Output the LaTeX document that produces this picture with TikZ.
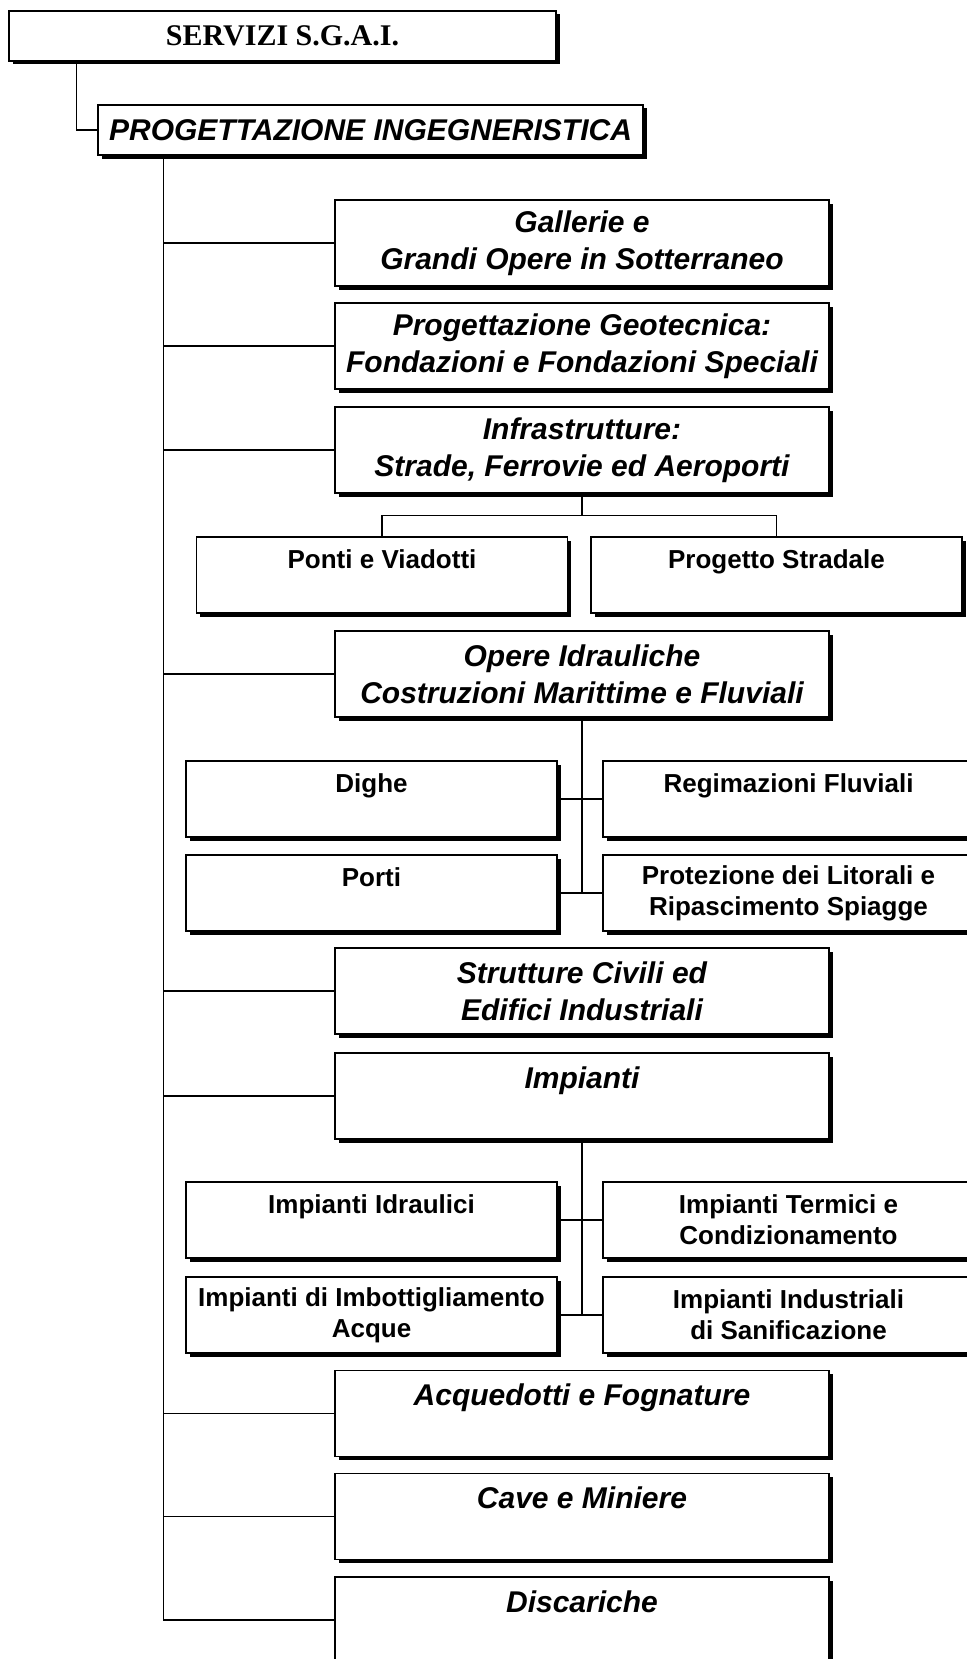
\documentclass[tikz,border=0pt]{standalone}
\usepackage{fontspec}
\setmainfont{Liberation Sans}
\newfontfamily\timesfont{Liberation Serif}
\usetikzlibrary{shadows}

\tikzset{
  box/.style={draw, fill=white, line width=0.75pt, inner sep=0pt, align=center,
    drop shadow={shadow xshift=1.75pt, shadow yshift=-1.75pt, fill=black, opacity=1}},
  bigbox/.style={box, minimum width=247pt, minimum height=43pt,
    font=\fontsize{15}{18.5}\selectfont\bfseries\itshape},
  smallbox/.style={box, minimum width=185.5pt, minimum height=38pt,
    font=\fontsize{13}{15.5}\selectfont\bfseries},
  link/.style={line width=0.75pt}
}

\begin{document}
\begin{tikzpicture}[x=0.5pt,y=-0.5pt]
\useasboundingbox (0,0) rectangle (966,1659);
\node[box, minimum width=273.5pt, minimum height=25pt, font=\timesfont\fontsize{15}{18}\selectfont\bfseries] (sgai) at (282.5,36) {SERVIZI S.G.A.I.};
\node[box, minimum width=272.5pt, minimum height=25pt, font=\fontsize{15}{18}\selectfont\bfseries\itshape] (prog) at (370.5,130) {PROGETTAZIONE INGEGNERISTICA};

\node[bigbox] (gal) at (582,243) {Gallerie e\\Grandi Opere in Sotterraneo};
\node[bigbox] (geo) at (582,346) {Progettazione Geotecnica:\\Fondazioni e Fondazioni Speciali};
\node[bigbox] (infra) at (582,450) {Infrastrutture:\\Strade, Ferrovie ed Aeroporti};
\node[smallbox] (ponti) at (382,575) {Ponti e Viadotti\\\mbox{}};
\node[smallbox] (strad) at (776.5,575) {Progetto Stradale\\\mbox{}};
\node[bigbox] (idr) at (582,674) {Opere Idrauliche\\Costruzioni Marittime e Fluviali};
\node[smallbox] (dighe) at (371.5,799) {Dighe\\\mbox{}};
\node[smallbox] (regim) at (788.5,799) {Regimazioni Fluviali\\\mbox{}};
\node[smallbox] (porti) at (371.5,893) {Porti\\\mbox{}};
\node[smallbox] (litor) at (788.5,893) {Protezione dei Litorali e\\Ripascimento Spiagge};
\node[bigbox] (strut) at (582,991) {Strutture Civili ed\\Edifici Industriali};
\node[bigbox] (imp) at (582,1096) {Impianti\\\mbox{}};
\node[smallbox] (impidr) at (371.5,1220) {Impianti Idraulici\\\mbox{}};
\node[smallbox] (impterm) at (788.5,1220) {Impianti Termici e\\Condizionamento};
\node[smallbox] (impimb) at (371.5,1315) {Impianti di Imbottigliamento\\Acque};
\node[smallbox] (impind) at (788.5,1315) {Impianti Industriali\\di Sanificazione};
\node[bigbox] (acq) at (582,1413.5) {Acquedotti e Fognature\\\mbox{}};
\node[bigbox] (cave) at (582,1516.5) {Cave e Miniere\\\mbox{}};
\node[bigbox] (disc) at (582,1620) {Discariche\\\mbox{}};

\draw[link] ([xshift=34pt]sgai.south west) |- (prog.west);
\coordinate (trunk) at ([xshift=33pt]prog.south west);
\draw[link] (trunk) |- (disc.west);
\foreach \nd in {gal,geo,infra,idr,strut,imp,acq,cave}
  \draw[link] (trunk |- \nd.west) -- (\nd.west);
% strade
\coordinate (infbar) at ([yshift=10.5pt]ponti.north);
\draw[link] (infra.south) -- (infra.south |- infbar);
\draw[link] (ponti.north) |- (infbar) -| (strad.north);
% idrauliche
\draw[link] (idr.south) -- (idr.south |- porti.east);
\draw[link] (dighe.east) -- (regim.west);
\draw[link] (porti.east) -- (litor.west);
% impianti
\draw[link] (imp.south) -- (imp.south |- impimb.east);
\draw[link] (impidr.east) -- (impterm.west);
\draw[link] (impimb.east) -- (impind.west);
\end{tikzpicture}
\end{document}
